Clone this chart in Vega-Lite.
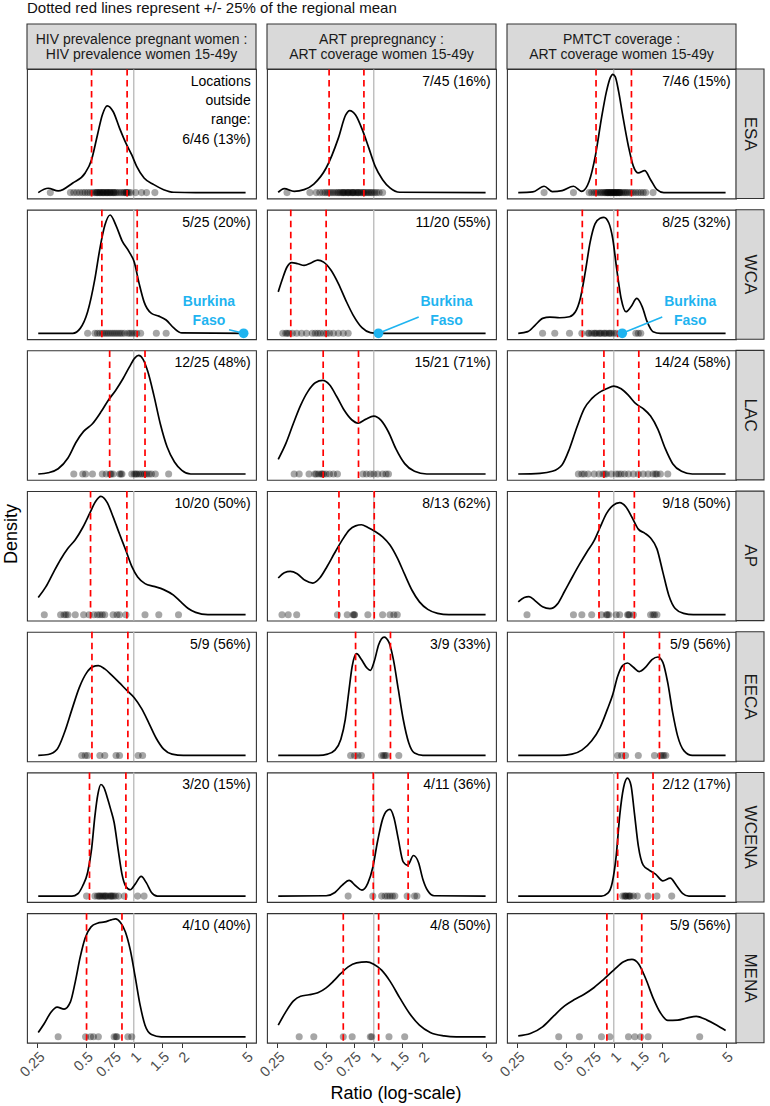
{
"$schema":"https://vega.github.io/schema/vega-lite/v6.json",
"background":"white",
"padding":{"left":2,"top":0,"right":0,"bottom":0},
"title":{"text":"Dotted red lines represent +/- 25% of the regional mean","anchor":"start","frame":"group","fontSize":15,"fontWeight":"normal","font":"Liberation Sans","color":"#111111","offset":7},
"data":{"values":[
{"k":"h","r":"ESA","c":"1","lab":"HIV prevalence pregnant women :\nHIV prevalence women 15-49y"},
{"k":"h","r":"ESA","c":"2","lab":"ART prepregnancy :\nART coverage women 15-49y"},
{"k":"h","r":"ESA","c":"3","lab":"PMTCT coverage :\nART coverage women 15-49y"},
{"k":"s","r":"ESA","c":"3","lab":"ESA"},
{"k":"s","r":"WCA","c":"3","lab":"WCA"},
{"k":"s","r":"LAC","c":"3","lab":"LAC"},
{"k":"s","r":"AP","c":"3","lab":"AP"},
{"k":"s","r":"EECA","c":"3","lab":"EECA"},
{"k":"s","r":"WCENA","c":"3","lab":"WCENA"},
{"k":"s","r":"MENA","c":"3","lab":"MENA"},
{"k":"t","r":"ESA","c":"1","lab":"Locations\noutside\nrange:\n6/46 (13%)"},
{"k":"t","r":"ESA","c":"2","lab":"7/45 (16%)"},
{"k":"t","r":"ESA","c":"3","lab":"7/46 (15%)"},
{"k":"t","r":"WCA","c":"1","lab":"5/25 (20%)"},
{"k":"t","r":"WCA","c":"2","lab":"11/20 (55%)"},
{"k":"t","r":"WCA","c":"3","lab":"8/25 (32%)"},
{"k":"t","r":"LAC","c":"1","lab":"12/25 (48%)"},
{"k":"t","r":"LAC","c":"2","lab":"15/21 (71%)"},
{"k":"t","r":"LAC","c":"3","lab":"14/24 (58%)"},
{"k":"t","r":"AP","c":"1","lab":"10/20 (50%)"},
{"k":"t","r":"AP","c":"2","lab":"8/13 (62%)"},
{"k":"t","r":"AP","c":"3","lab":"9/18 (50%)"},
{"k":"t","r":"EECA","c":"1","lab":"5/9 (56%)"},
{"k":"t","r":"EECA","c":"2","lab":"3/9 (33%)"},
{"k":"t","r":"EECA","c":"3","lab":"5/9 (56%)"},
{"k":"t","r":"WCENA","c":"1","lab":"3/20 (15%)"},
{"k":"t","r":"WCENA","c":"2","lab":"4/11 (36%)"},
{"k":"t","r":"WCENA","c":"3","lab":"2/12 (17%)"},
{"k":"t","r":"MENA","c":"1","lab":"4/10 (40%)"},
{"k":"t","r":"MENA","c":"2","lab":"4/8 (50%)"},
{"k":"t","r":"MENA","c":"3","lab":"5/9 (56%)"},
{"k":"m","r":"ESA","c":"1","xs":[0.545,0.909]},
{"k":"m","r":"ESA","c":"2","xs":[0.526,0.868]},
{"k":"m","r":"ESA","c":"3","xs":[0.775,1.29]},
{"k":"m","r":"WCA","c":"1","xs":[0.632,1.051]},
{"k":"m","r":"WCA","c":"2","xs":[0.303,0.504]},
{"k":"m","r":"WCA","c":"3","xs":[0.636,1.058]},
{"k":"m","r":"LAC","c":"1","xs":[0.707,1.176]},
{"k":"m","r":"LAC","c":"2","xs":[0.483,0.803]},
{"k":"m","r":"LAC","c":"3","xs":[0.868,1.434]},
{"k":"m","r":"AP","c":"1","xs":[0.537,0.906]},
{"k":"m","r":"AP","c":"2","xs":[0.606,1.007]},
{"k":"m","r":"AP","c":"3","xs":[0.809,1.345]},
{"k":"m","r":"EECA","c":"1","xs":[0.548,0.919]},
{"k":"m","r":"EECA","c":"2","xs":[0.77,1.272]},
{"k":"m","r":"EECA","c":"3","xs":[1.16,1.93]},
{"k":"m","r":"WCENA","c":"1","xs":[0.529,0.893]},
{"k":"m","r":"WCENA","c":"2","xs":[0.993,1.64]},
{"k":"m","r":"WCENA","c":"3","xs":[1.058,1.76]},
{"k":"m","r":"MENA","c":"1","xs":[0.507,0.844]},
{"k":"m","r":"MENA","c":"2","xs":[0.645,1.073]},
{"k":"m","r":"MENA","c":"3","xs":[0.906,1.496]},
{"k":"b","r":"WCA","c":"1","x":4.86,"tx":2.95,"ty":26.7,"lx":3.94,"ly":3.1,"lab":"Burkina\nFaso"},
{"k":"b","r":"WCA","c":"2","x":1.07,"tx":2.85,"ty":26.7,"lx":1.91,"ly":13.9,"lab":"Burkina\nFaso"},
{"k":"b","r":"WCA","c":"3","x":1.13,"tx":3.01,"ty":26.7,"lx":2.01,"ly":13.9,"lab":"Burkina\nFaso"},
{"k":"d","r":"ESA","c":"1","xs":[0.253,0.292,0.337,0.416,0.497,0.545,0.593,0.636,0.683,0.743,0.815,0.893,0.972,1.043,1.16,1.336,1.538,1.772,2.435,5],"ys":[0,3.7,1.4,8.2,16.7,28,49,66,73.7,68.9,54.8,42,32,22.3,12.4,6.8,2.5,0.3,0,0]},
{"k":"d","r":"ESA","c":"2","xs":[0.253,0.276,0.318,0.367,0.422,0.504,0.601,0.668,0.707,0.77,0.856,0.932,1.021,1.136,1.263,1.454,5],"ys":[0.3,3.4,1.1,2.5,7.3,20.9,46.3,66,69.7,66,52,37.8,22.3,11,4,0.3,0]},
{"k":"d","r":"ESA","c":"3","xs":[0.253,0.312,0.367,0.413,0.476,0.56,0.632,0.702,0.77,0.838,0.9,0.952,0.986,1.021,1.073,1.136,1.236,1.327,1.424,1.561,1.699,1.862,2.055,5],"ys":[0,0.6,5.4,0.8,1.7,5.4,1.1,9.6,32.2,63.2,85.8,97.7,100.5,98.5,85.8,66,39.2,22.3,16.7,18.6,11,2.5,0,0]},
{"k":"d","r":"WCA","c":"1","xs":[0.253,0.416,0.463,0.515,0.572,0.614,0.659,0.712,0.775,0.844,0.938,1.007,1.081,1.16,1.29,1.434,1.594,1.772,1.998,5],"ys":[0,0,4.2,18.3,46.4,71.8,91.5,100.5,91.5,78.8,69,60.5,42.2,26.7,16.9,14.6,11.3,4.8,0.3,0]},
{"k":"d","r":"WCA","c":"2","xs":[0.253,0.267,0.287,0.307,0.335,0.367,0.408,0.447,0.486,0.541,0.601,0.668,0.743,0.844,0.952,1.058,5],"ys":[35.2,45,56.3,60,59.1,57.7,60,62.2,60.5,53.5,42.2,28.2,15.5,4.8,0.6,0,0]},
{"k":"d","r":"WCA","c":"3","xs":[0.253,0.29,0.323,0.359,0.399,0.46,0.529,0.576,0.618,0.664,0.712,0.764,0.821,0.868,0.932,0.986,1.043,1.112,1.193,1.281,1.394,1.507,1.617,1.76,1.957,5],"ys":[0,1.4,7,12.7,13.8,13.2,14.1,18.3,29.6,52.1,77.4,92.9,97.7,98.5,93.7,80.2,54.9,29.6,18.3,22.5,29.6,22.5,9.9,1.4,0,0]},
{"k":"d","r":"LAC","c":"1","xs":[0.253,0.292,0.337,0.388,0.437,0.486,0.552,0.623,0.692,0.77,0.856,0.938,1.014,1.073,1.144,1.227,1.336,1.465,1.617,1.797,1.998,2.271,5],"ys":[0,1.1,4.5,13.6,27.2,36.2,42.7,52.6,62.5,71,80.9,90.8,98.5,100.7,97.4,86.6,66.8,42.7,22.9,10.2,3.1,0,0]},
{"k":"d","r":"LAC","c":"2","xs":[0.253,0.282,0.314,0.349,0.388,0.431,0.48,0.529,0.589,0.654,0.728,0.798,0.887,1,1.112,1.236,1.374,1.561,1.797,2.144,5],"ys":[12.5,25.8,42.7,58.3,70.2,77.5,79.5,75.8,65.4,54.1,46.1,43.3,46.4,49.2,45.6,35.7,21.5,8.8,2.3,0,0]},
{"k":"d","r":"LAC","c":"3","xs":[0.253,0.346,0.413,0.476,0.529,0.589,0.654,0.728,0.809,0.9,1,1.112,1.236,1.374,1.528,1.699,1.889,2.1,2.335,2.653,3.097,5],"ys":[0,0.6,2.3,7.9,21.5,39.9,55.5,64,69.1,72.4,74.7,72.4,66.8,59.7,55.5,49.2,37.9,21.5,8.8,2.3,0,0]},
{"k":"d","r":"AP","c":"1","xs":[0.253,0.282,0.314,0.349,0.388,0.431,0.48,0.533,0.576,0.623,0.683,0.743,0.815,0.893,0.972,1.058,1.176,1.336,1.538,1.772,1.97,2.191,2.435,2.906,5],"ys":[14.6,23.6,35.6,46.9,56.4,63.7,74.1,86.7,96,100.5,95.2,83.1,68.5,54.5,41,32,26.4,24.1,21.3,16.6,10.9,5.3,2,0,0]},
{"k":"d","r":"AP","c":"2","xs":[0.253,0.276,0.301,0.332,0.372,0.416,0.46,0.511,0.568,0.632,0.702,0.77,0.838,0.919,1.021,1.136,1.263,1.403,1.561,1.734,1.93,2.176,2.506,2.948,5],"ys":[31.2,35.6,36.8,34.8,29.2,26.9,31.2,41,52.2,62.9,71.9,75.5,76.4,74.1,70.7,66.2,59.2,48.3,34.2,20.8,10.9,4.5,1.1,0,0]},
{"k":"d","r":"AP","c":"3","xs":[0.253,0.276,0.295,0.323,0.359,0.399,0.444,0.493,0.548,0.61,0.678,0.754,0.821,0.9,0.986,1.089,1.193,1.308,1.424,1.561,1.699,1.862,2.027,2.207,2.42,2.732,3.141,5],"ys":[10.9,14.6,15.4,11.8,6.7,5.1,9,19.9,31.4,42.7,53.1,62.9,74.1,85.9,92.6,95.2,91.5,82,72.7,69.3,65.1,55.9,36.2,16.6,5.3,1.1,0,0]},
{"k":"d","r":"EECA","c":"1","xs":[0.253,0.292,0.332,0.369,0.411,0.456,0.507,0.552,0.601,0.659,0.733,0.815,0.906,1.007,1.12,1.245,1.384,1.538,1.734,2.042,5],"ys":[0,0.8,5.3,19.4,39.1,57.4,70.1,75.2,76.3,73.5,67.8,61.6,55.2,49,39.7,27.3,14.4,5.3,1.1,0,0]},
{"k":"d","r":"EECA","c":"2","xs":[0.253,0.453,0.515,0.572,0.623,0.664,0.697,0.733,0.781,0.838,0.906,0.952,1.007,1.073,1.16,1.245,1.327,1.424,1.528,1.652,1.797,2.027,5],"ys":[0,0,1.1,4.5,13.8,30.7,53.2,75.7,86.4,81.4,74.3,72.3,79.9,94,100.5,96,81.4,56,30.7,11,2,0,0]},
{"k":"d","r":"EECA","c":"3","xs":[0.253,0.46,0.548,0.632,0.728,0.821,0.912,0.986,1.058,1.136,1.219,1.327,1.444,1.583,1.734,1.889,2.027,2.176,2.335,2.506,2.751,3.097,5],"ys":[0,0,1.1,4.5,12.4,23.6,39.1,51.8,67.3,76.3,78.5,74.9,71.2,74.9,81.4,83.6,79.1,61.6,36.3,16.6,3.9,0,0]},
{"k":"d","r":"WCENA","c":"1","xs":[0.253,0.411,0.447,0.48,0.515,0.545,0.572,0.597,0.623,0.65,0.683,0.717,0.754,0.798,0.844,0.893,0.952,1.021,1.112,1.202,1.29,1.403,5],"ys":[0,0,2,8.8,20.1,39.9,68.2,86.6,94.8,92.3,83.8,73.9,62.5,39.9,18.7,8.2,5.4,10.2,16.7,11,3.1,0,0]},
{"k":"d","r":"WCENA","c":"2","xs":[0.253,0.504,0.572,0.636,0.702,0.77,0.844,0.919,0.986,1.058,1.136,1.202,1.263,1.336,1.424,1.528,1.628,1.772,1.904,2.027,2.176,2.384,5],"ys":[0,0.3,3.1,9.3,13.3,8.8,5.1,11,24.3,47,65.4,72.2,73.6,66.8,48.4,29.1,26.3,34.5,28.6,14.4,4.5,0.3,0]},
{"k":"d","r":"WCENA","c":"3","xs":[0.253,0.838,0.919,0.979,1.036,1.089,1.152,1.219,1.281,1.345,1.424,1.528,1.663,1.824,2.027,2.255,2.472,2.689,2.948,5],"ys":[0,0,2.5,11.6,34.2,68.2,92.3,100.2,94.2,71,42.7,26.3,22.1,18.7,13,15.3,8.8,2.3,0,0]},
{"k":"d","r":"MENA","c":"1","xs":[0.253,0.276,0.303,0.332,0.367,0.402,0.431,0.463,0.497,0.541,0.593,0.659,0.722,0.77,0.826,0.887,0.952,1.021,1.096,1.176,1.29,1.485,5],"ys":[3.7,11.3,20.7,25.2,23.5,29.7,46.7,67.9,84,93.4,96.5,97.6,99.3,100.2,97.1,89.1,73.6,50.9,26.9,9.9,2,0,0]},
{"k":"d","r":"MENA","c":"2","xs":[0.253,0.282,0.314,0.349,0.394,0.447,0.504,0.56,0.623,0.692,0.781,0.9,1,1.12,1.263,1.454,1.675,1.93,2.255,2.751,3.277,5],"ys":[9.9,21.2,30.3,34.5,35.7,37.4,41.6,47.3,53.8,59.4,62.8,63.7,61.7,56.6,47.3,33.1,19.8,9.9,3.7,0.8,0,0]},
{"k":"d","r":"MENA","c":"3","xs":[0.253,0.301,0.359,0.422,0.493,0.568,0.654,0.754,0.868,1,1.152,1.299,1.424,1.583,1.76,1.957,2.176,2.506,2.886,3.277,3.828,4.409,5],"ys":[0.8,2.8,8.5,17.8,26.3,31.7,36.2,41.9,49,56.6,63.7,65.7,62.3,49.5,33.1,20.4,13.9,14.2,16.1,17.3,14.2,9.9,5.4]},
{"k":"p","r":"ESA","c":"1","xs":[0.301,0.402,0.422,0.441,0.46,0.48,0.497,0.515,0.533,0.552,0.568,0.58,0.589,0.593,0.606,0.614,0.618,0.632,0.641,0.645,0.654,0.668,0.678,0.683,0.692,0.707,0.712,0.722,0.738,0.749,0.754,0.77,0.786,0.809,0.832,0.856,0.874,0.893,0.9,0.912,0.932,0.958,1.029,1.12,1.202,1.355]},
{"k":"p","r":"ESA","c":"2","xs":[0.287,0.399,0.437,0.46,0.48,0.497,0.511,0.526,0.541,0.556,0.572,0.589,0.601,0.614,0.627,0.641,0.645,0.654,0.668,0.683,0.692,0.697,0.712,0.728,0.738,0.743,0.754,0.77,0.786,0.798,0.803,0.821,0.838,0.856,0.868,0.887,0.906,0.925,0.945,0.965,0.986,1.014,1.043,1.081,1.136]},
{"k":"p","r":"ESA","c":"3","xs":[0.367,0.56,0.702,0.728,0.754,0.775,0.798,0.821,0.838,0.856,0.874,0.887,0.9,0.912,0.919,0.925,0.938,0.952,0.958,0.965,0.979,0.993,1,1.007,1.021,1.036,1.043,1.051,1.066,1.081,1.089,1.096,1.12,1.144,1.168,1.193,1.219,1.254,1.29,1.327,1.374,1.424,1.475,1.528,1.583,1.76]},
{"k":"p","r":"WCA","c":"1","xs":[0.515,0.572,0.593,0.614,0.636,0.654,0.673,0.692,0.712,0.733,0.754,0.775,0.798,0.821,0.844,0.874,0.919,0.945,0.972,1.007,1.043,1.104,1.384,1.594]},
{"k":"p","r":"WCA","c":"2","xs":[0.27,0.282,0.288,0.296,0.31,0.33,0.354,0.38,0.413,0.431,0.447,0.463,0.486,0.507,0.529,0.56,0.601,0.645,0.692]},
{"k":"p","r":"WCA","c":"3","xs":[0.359,0.428,0.529,0.632,0.692,0.702,0.728,0.754,0.764,0.781,0.809,0.821,0.838,0.868,0.88,0.9,0.932,0.945,0.965,1,1.036,1.374,1.424,1.475]},
{"k":"p","r":"LAC","c":"1","xs":[0.422,0.48,0.5,0.552,0.636,0.673,0.712,0.722,0.743,0.815,0.832,0.844,0.972,1.007,1.029,1.043,1.073,1.104,1.136,1.168,1.202,1.245,1.29,1.364,1.652]},
{"k":"p","r":"LAC","c":"2","xs":[0.318,0.342,0.394,0.428,0.437,0.453,0.47,0.476,0.486,0.504,0.529,0.56,0.593,0.856,0.9,0.952,1,1.058,1.136,1.193,1.236]},
{"k":"p","r":"LAC","c":"3","xs":[0.601,0.632,0.654,0.692,0.754,0.809,0.856,0.88,0.9,0.965,1.036,1.073,1.112,1.168,1.236,1.327,1.424,1.528,1.64,1.76,1.824,1.862,1.957,2.176]},
{"k":"p","r":"AP","c":"1","xs":[0.276,0.349,0.367,0.377,0.388,0.431,0.486,0.526,0.564,0.593,0.614,0.636,0.659,0.743,0.786,0.815,0.893,1.176,1.434,1.904]},
{"k":"p","r":"AP","c":"2","xs":[0.267,0.292,0.33,0.593,0.683,0.743,0.754,0.759,0.919,1.136,1.263,1.336,1.403]},
{"k":"p","r":"AP","c":"3","xs":[0.287,0.56,0.632,0.728,0.838,0.9,0.912,0.932,1.036,1.089,1.219,1.236,1.254,1.327,1.699,1.76,1.797,1.862]},
{"k":"p","r":"EECA","c":"1","xs":[0.473,0.497,0.515,0.614,0.659,0.775,0.815,1.066,1.136]},
{"k":"p","r":"EECA","c":"2","xs":[0.717,0.759,0.798,0.838,1.12,1.152,1.176,1.202,1.434]},
{"k":"p","r":"EECA","c":"3","xs":[1.058,1.12,1.185,1.424,1.797,1.957,2.013,2.055,2.115]},
{"k":"p","r":"WCENA","c":"1","xs":[0.507,0.572,0.593,0.606,0.614,0.627,0.641,0.654,0.664,0.673,0.692,0.712,0.722,0.733,0.749,0.77,0.803,0.874,1.058,1.16]},
{"k":"p","r":"WCENA","c":"2","xs":[0.692,0.986,1.12,1.176,1.219,1.263,1.308,1.355,1.617,1.797,1.862]},
{"k":"p","r":"WCENA","c":"3","xs":[1.136,1.168,1.185,1.202,1.236,1.254,1.272,1.327,1.403,1.64,1.862,2.303]},
{"k":"p","r":"MENA","c":"1","xs":[0.337,0.5,0.537,0.56,0.601,0.754,0.775,0.786,0.919,0.972]},
{"k":"p","r":"MENA","c":"2","xs":[0.342,0.422,0.645,0.733,0.952,0.972,1.245,1.561]},
{"k":"p","r":"MENA","c":"3","xs":[0.453,0.61,0.838,0.945,1.236,1.355,1.475,1.64,3.444]}
]},
"facet":{
"row":{"field":"r","type":"nominal","sort":["ESA","WCA","LAC","AP","EECA","WCENA","MENA"],"header":{"labels":false,"labelPadding":0,"title":"Density","titleOrient":"left","titleFontSize":18,"titleFontWeight":"normal","titleFont":"Liberation Sans","titleColor":"#000000","titlePadding":-3.5}},
"column":{"field":"c","type":"nominal","sort":["1","2","3"],"header":{"labels":false,"labelPadding":0,"title":"Ratio (log-scale)","titleOrient":"bottom","titleFontSize":18,"titleFontWeight":"normal","titleFont":"Liberation Sans","titleColor":"#000000","titlePadding":-5}}
},
"spacing":{"row":10.7,"column":11},
"bounds":"flush",
"spec":{
"width":229,"height":129.5,
"layer":[
{"transform":[{"filter":"datum.k==='t'"}],"mark":{"type":"rule","color":"#bdbdbd","strokeWidth":1.4},"encoding":{"x":{"datum":1,"type":"quantitative","scale":{"type":"log","domain":[0.2152,5.808],"nice":false},"axis":{"title":null,"values":[0.25,0.5,0.75,1,1.5,2,5],"format":"~g"}}}},
{"transform":[{"filter":"datum.k==='d'"},{"flatten":["xs","ys"],"as":["x","y"]}],"mark":{"type":"line","color":"#000000","strokeWidth":1.7,"interpolate":"monotone"},
 "encoding":{"x":{"field":"x","type":"quantitative","scale":{"type":"log","domain":[0.2152,5.808],"nice":false},"axis":{"title":null,"values":[0.25,0.5,0.75,1,1.5,2,5],"format":"~g"}},
  "y":{"field":"y","type":"quantitative","scale":{"domain":[-5,105],"nice":false,"zero":false},"axis":null}}},
{"transform":[{"filter":"datum.k==='p'"},{"flatten":["xs"],"as":["x"]}],"mark":{"type":"circle","color":"#000000","opacity":0.35,"size":50},
 "encoding":{"x":{"field":"x","type":"quantitative","scale":{"type":"log","domain":[0.2152,5.808],"nice":false},"axis":{"title":null,"values":[0.25,0.5,0.75,1,1.5,2,5],"format":"~g"}},"y":{"datum":0,"type":"quantitative","scale":{"domain":[-5,105],"nice":false,"zero":false},"axis":null}}},
{"transform":[{"filter":"datum.k==='m'"},{"flatten":["xs"],"as":["x"]}],"mark":{"type":"rule","color":"#ff0000","strokeWidth":1.7,"strokeDash":[6.5,4.5]},
 "encoding":{"x":{"field":"x","type":"quantitative","scale":{"type":"log","domain":[0.2152,5.808],"nice":false},"axis":{"title":null,"values":[0.25,0.5,0.75,1,1.5,2,5],"format":"~g"}}}},
{"transform":[{"filter":"datum.k==='b'"}],"mark":{"type":"rule","color":"#1fb4f0","strokeWidth":1.6},
 "encoding":{"x":{"field":"lx","type":"quantitative","scale":{"type":"log","domain":[0.2152,5.808],"nice":false},"axis":{"title":null,"values":[0.25,0.5,0.75,1,1.5,2,5],"format":"~g"}},"y":{"field":"ly","type":"quantitative","scale":{"domain":[-5,105],"nice":false,"zero":false},"axis":null},"x2":{"field":"x"},"y2":{"datum":0}}},
{"transform":[{"filter":"datum.k==='b'"}],"mark":{"type":"circle","color":"#1fb4f0","opacity":1,"size":95},
 "encoding":{"x":{"field":"x","type":"quantitative","scale":{"type":"log","domain":[0.2152,5.808],"nice":false},"axis":{"title":null,"values":[0.25,0.5,0.75,1,1.5,2,5],"format":"~g"}},"y":{"datum":0,"type":"quantitative","scale":{"domain":[-5,105],"nice":false,"zero":false},"axis":null}}},
{"transform":[{"filter":"datum.k==='b'"}],"mark":{"type":"text","color":"#1fb4f0","fontSize":14,"fontWeight":"bold","font":"Liberation Sans","lineBreak":"\n","lineHeight":19,"align":"center","baseline":"middle"},
 "encoding":{"x":{"field":"tx","type":"quantitative","scale":{"type":"log","domain":[0.2152,5.808],"nice":false},"axis":{"title":null,"values":[0.25,0.5,0.75,1,1.5,2,5],"format":"~g"}},"y":{"field":"ty","type":"quantitative","scale":{"domain":[-5,105],"nice":false,"zero":false},"axis":null},"text":{"field":"lab"}}},
{"transform":[{"filter":"datum.k==='t'"}],"mark":{"type":"text","color":"#000000","fontSize":14,"font":"Liberation Sans","lineBreak":"\n","lineHeight":19.3,"align":"right","baseline":"top"},
 "encoding":{"x":{"datum":5.38,"type":"quantitative","scale":{"type":"log","domain":[0.2152,5.808],"nice":false},"axis":{"title":null,"values":[0.25,0.5,0.75,1,1.5,2,5],"format":"~g"}},"y":{"datum":100,"type":"quantitative","scale":{"domain":[-5,105],"nice":false,"zero":false},"axis":null},"text":{"field":"lab"}}},
{"transform":[{"filter":"datum.k==='h'"}],"mark":{"type":"rect","fill":"#d9d9d9","stroke":"#333333","strokeWidth":1.1},
 "encoding":{"x":{"datum":0.2152,"type":"quantitative","scale":{"type":"log","domain":[0.2152,5.808],"nice":false},"axis":{"title":null,"values":[0.25,0.5,0.75,1,1.5,2,5],"format":"~g"}},"x2":{"datum":5.808},"y":{"datum":105,"type":"quantitative","scale":{"domain":[-5,105],"nice":false,"zero":false},"axis":null},"y2":{"datum":143.2}}},
{"transform":[{"filter":"datum.k==='h'"}],"mark":{"type":"text","color":"#1a1a1a","fontSize":14,"font":"Liberation Sans","lineBreak":"\n","lineHeight":15.5,"align":"center","baseline":"middle"},
 "encoding":{"x":{"datum":1.118,"type":"quantitative","scale":{"type":"log","domain":[0.2152,5.808],"nice":false},"axis":{"title":null,"values":[0.25,0.5,0.75,1,1.5,2,5],"format":"~g"}},"y":{"datum":129.8,"type":"quantitative","scale":{"domain":[-5,105],"nice":false,"zero":false},"axis":null},"text":{"field":"lab"}}},
{"transform":[{"filter":"datum.k==='s'"}],"mark":{"type":"rect","fill":"#d9d9d9","stroke":"#333333","strokeWidth":1.1},
 "encoding":{"x":{"datum":5.808,"type":"quantitative","scale":{"type":"log","domain":[0.2152,5.808],"nice":false},"axis":{"title":null,"values":[0.25,0.5,0.75,1,1.5,2,5],"format":"~g"}},"x2":{"datum":8.69},"y":{"datum":-5,"type":"quantitative","scale":{"domain":[-5,105],"nice":false,"zero":false},"axis":null},"y2":{"datum":105}}},
{"transform":[{"filter":"datum.k==='s'"}],"mark":{"type":"text","color":"#1a1a1a","fontSize":17,"font":"Liberation Sans","angle":90,"align":"center","baseline":"middle"},
 "encoding":{"x":{"datum":7.104,"type":"quantitative","scale":{"type":"log","domain":[0.2152,5.808],"nice":false},"axis":{"title":null,"values":[0.25,0.5,0.75,1,1.5,2,5],"format":"~g"}},"y":{"datum":50,"type":"quantitative","scale":{"domain":[-5,105],"nice":false,"zero":false},"axis":null},"text":{"field":"lab"}}}
]},
"config":{"font":"Liberation Sans","view":{"stroke":"#333333","strokeWidth":1.1},
 "axisX":{"grid":false,"domain":false,"labelAngle":-45,"labelAlign":"right","labelBaseline":"top","labelFontSize":14.5,"labelColor":"#4d4d4d","labelFont":"Liberation Sans","labelOverlap":false,"labelFlush":false,"labelBound":false,"labelPadding":2,"tickColor":"#333333","tickSize":4.5,"tickWidth":1}}
}
